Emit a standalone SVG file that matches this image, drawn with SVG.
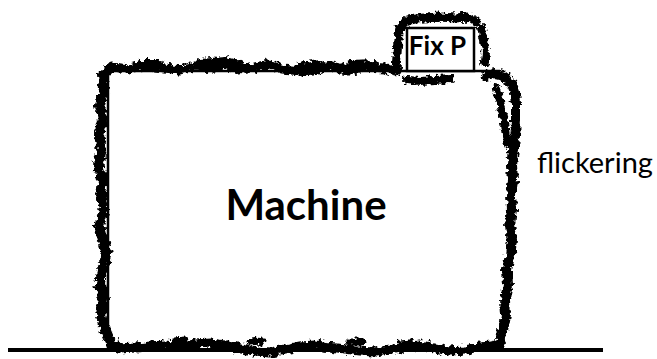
<svg xmlns="http://www.w3.org/2000/svg" width="657" height="359" viewBox="0 0 657 359">
<defs>
<filter id="rough" filterUnits="userSpaceOnUse" x="0" y="0" width="657" height="359">
<feTurbulence type="fractalNoise" baseFrequency="0.22" numOctaves="3" seed="7" result="n"/>
<feDisplacementMap in="SourceGraphic" in2="n" scale="8" xChannelSelector="R" yChannelSelector="G"/>
</filter>
<style>
.thin{fill:none;stroke:#000;stroke-width:2.5}
.blob{fill:none;stroke:#000;stroke-linecap:round;stroke-linejoin:round}
.txt{font-family:Lato,"Open Sans","Liberation Sans",sans-serif;fill:#000}
</style>
</defs>
<rect width="657" height="359" fill="#fff"/>

<g id="ground">
<line x1="8" y1="350" x2="603" y2="350" stroke="#000" stroke-width="4"/>
</g>

<g id="machine">
<path class="thin" d="M108,350 L108,71 L500,71"/>
<g filter="url(#rough)">
<path class="blob" stroke-width="9" d="M104,74 L112,67 L128,69 L145,66 L165,68 L180,70 L195,66 L212,68 L225,64 L240,70 L255,67 L268,64 L282,69 L300,71 L315,70 L330,66 L348,70 L365,67 L385,68 L398,71"/>
<path class="blob" stroke-width="6" d="M140,63 L160,63 M200,62 L225,60 L240,64 M300,66 L320,63 M350,64 L375,63"/>
<path class="blob" stroke-width="10" d="M103,75 L104,90 L100,105 L103,120 L99,135 L102,150 L98,165 L103,180 L101,195 L104,210 L99,225 L103,240 L107,255 L102,270 L100,285 L104,300 L101,315 L105,330 L110,342 L118,347"/>
<path class="blob" stroke-width="9" d="M118,348 L135,347 L150,346 L165,345 L180,347 L195,344 L210,343 L225,345 L240,349 L255,351 L270,352 L285,349 L300,346 L315,345 L330,347 L345,349 L360,351 L375,352 L390,350 L405,347 L420,345 L435,348 L450,351 L465,350 L480,347 L492,346 L500,344"/>
<path class="blob" stroke-width="7" d="M175,341 L185,340 M250,342 L262,341 M350,342 L362,342 M400,344 L410,343"/>
<path class="blob" stroke-width="10" d="M500,343 L503,330 L506,315 L505,300 L508,285 L507,270 L510,255 L512,240 L510,225 L512,210 L511,195 L513,180 L512,165 L514,150 L515,135 L516,120 L516,105 L515,92 L511,82 L503,76 L495,74 L486,76"/>
<path class="blob" stroke-width="8" d="M496,88 L500,100 L503,115 L505,130 L507,145"/>
<path class="blob" stroke-width="9" d="M396,70 L397,55 L398,40 L400,27 L408,20 L425,18 L440,17 L455,18 L468,17 L476,22"/>
<path class="blob" stroke-width="8" d="M481,28 L484,40 L486,52 L485,62"/>
<path class="blob" stroke-width="8" d="M407,80 L420,81 L435,80 L450,79"/>
</g>
<text class="txt" x="306" y="220" font-size="42" font-weight="bold" text-anchor="middle">Machine</text>
</g>

<g id="fixp">
<rect x="407" y="28" width="67" height="43" fill="#fff" stroke="#000" stroke-width="2.5"/>
<text class="txt" x="437.5" y="55" font-size="26" font-weight="bold" text-anchor="middle">Fix P</text>
</g>

<g id="flickering">
<text class="txt" x="537" y="173" font-size="29">flickering</text>
</g>
</svg>
